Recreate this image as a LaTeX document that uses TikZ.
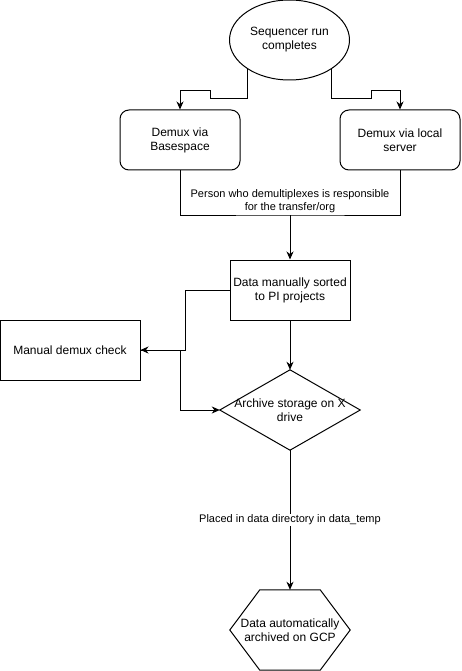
\documentclass[tikz,border=0pt]{standalone}
\usepackage{fontspec}
\setmainfont{Liberation Sans}
\usetikzlibrary{shapes.geometric,arrows.meta,calc}
\begin{document}
\begin{tikzpicture}[x=1pt,y=1pt,
  every node/.style={font=\fontsize{12}{14}\selectfont, align=center, inner sep=0pt},
  box/.style={draw, line width=1pt, minimum width=120, minimum height=60},
  rbox/.style={box, rounded corners=9pt},
  ghost/.style={minimum width=#1, minimum height=80},
  arr/.style={line width=1pt, -{Stealth[length=8pt,width=7pt,inset=2.5pt]}},
  ln/.style={line width=1pt},
  elabel/.style={font=\fontsize{11}{13}\selectfont, fill=white, inner sep=1pt}
]
\useasboundingbox (0,0) rectangle (461,-671);
\fill[white] (0,0) rectangle (461,-671);

\node[draw, ellipse, line width=1pt, minimum width=120, minimum height=80] (seq) at (289.5,-40) {Sequencer run\\completes};
\node[rbox] (bs) at (180,-140) {Demux via\\Basespace};
\node[rbox] (ls) at (400,-140) {Demux via local\\server};
\node[box] (dm) at (290,-290) {Data manually sorted\\to PI projects};
\node[box, minimum width=140] (man) at (70,-350) {Manual demux check};
\node[ghost=140] (arch) at (290,-410) {Archive storage on X\\drive};
\node[ghost=120] (gcp) at (290,-630) {Data automatically\\archived on GCP};

\draw[ln] (arch.west) -- (arch.north) -- (arch.east) -- (arch.south) -- cycle;
\draw[ln] (gcp.west) -- ($(gcp.north west)+(30,0)$) -- ($(gcp.north east)+(-30,0)$) -- (gcp.east)
  -- ($(gcp.south east)+(-30,0)$) -- ($(gcp.south west)+(30,0)$) -- cycle;

\draw[arr] (seq.215) |- (210,-99) |- (180,-91) -- (bs.north);
\draw[arr] (seq.325) |- (371,-99) |- (400,-91) -- (ls.north);

\coordinate (mid) at (290,-215);
\draw[ln] (bs.south) |- (mid) -| (ls.south);
\node[elabel] (plab) at (290,-201) {Person who demultiplexes is responsible\\for the transfer/org};
\draw[arr] (mid) -- (dm.north);

\draw[arr] (dm.west) -- (185,-290) |- (man.east);
\draw[arr] (man.east) -- (180,-350) |- (arch.west);
\draw[arr] (dm.south) -- (arch.north);
\draw[arr] (arch.south) -- node[elabel, pos=0.5] {Placed in data directory in data\_temp} (gcp.north);
\end{tikzpicture}
\end{document}
